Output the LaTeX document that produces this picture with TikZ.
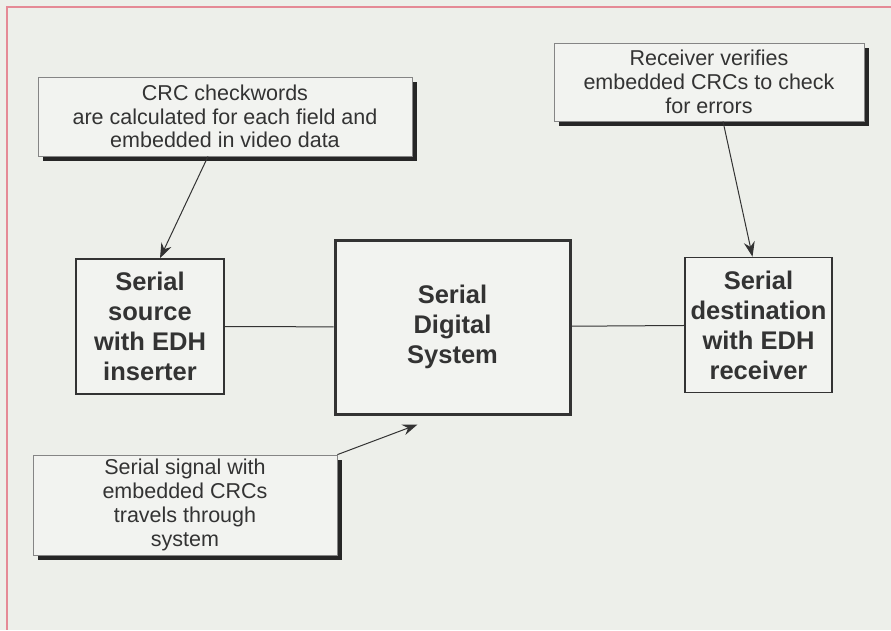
\documentclass[tikz,border=0pt]{standalone}
\usepackage{fontspec}
\setmainfont{Liberation Sans}
\usetikzlibrary{arrows.meta,shadows}

\definecolor{paper}{HTML}{EDEFEA}
\definecolor{boxfill}{HTML}{F2F3F0}
\definecolor{ink}{HTML}{333333}
\definecolor{frame}{HTML}{E58A96}

\tikzset{
  callout/.style={draw=ink!60, line width=0.8pt, fill=boxfill, align=center, text=ink,
    font=\fontsize{21.5}{23.8}\selectfont, inner sep=1pt,
    drop shadow={shadow xshift=5pt, shadow yshift=-5pt, fill=black!85, opacity=1}},
  unit/.style={draw=ink, line width=1.6pt, fill=boxfill, align=center, text=ink,
    font=\fontsize{25.5}{30}\selectfont\bfseries, inner sep=1pt},
  pointer/.style={-{Stealth[length=15pt,width=11pt,inset=5pt]}, ink, line width=1pt}
}

\begin{document}
\begin{tikzpicture}[x=1pt,y=-1pt]
    \useasboundingbox (0,0) rectangle (891,630);
    \fill[paper] (0,0) rectangle (891,630);
    \draw[frame, line width=1.8pt] (891,7) -- (7,7) -- (7,630);

    % notes
    \node[callout, minimum width=374pt, minimum height=79pt] (crc) at (225,116.5)
      {CRC checkwords\\are calculated for each field and\\embedded in video data};
    \node[callout, minimum width=310pt, minimum height=78pt] (verify) at (709,82)
      {Receiver verifies\\embedded CRCs to check\\for errors};
    \node[callout, minimum width=304pt, minimum height=100pt] (signal) at (185,505)
      {Serial signal with\\embedded CRCs\\travels through\\system};

    % blocks
    \node[unit, minimum width=148pt, minimum height=135pt] (src) at (150,326.5)
      {Serial\\source\\with EDH\\inserter};
    \node[unit, line width=3pt, minimum width=235pt, minimum height=174pt] (sys) at (452.5,327)
      {Serial\\Digital\\System};
    \node[unit, minimum width=147pt, minimum height=135pt] (dst) at (758.5,325)
      {Serial\\destination\\with EDH\\receiver};

    \draw[ink, line width=1pt] (src) -- (sys);
    \draw[ink, line width=1pt] (sys) -- (dst);

    \draw[pointer] ([xshift=-17pt]crc.south) -- ([xshift=10pt]src.north);
    \draw[pointer] ([xshift=14pt]verify.south) -- ([xshift=-6pt]dst.north);
    \draw[pointer] (signal.north east) -- ([xshift=-35pt,yshift=-9pt]sys.south);
\end{tikzpicture}
\end{document}
